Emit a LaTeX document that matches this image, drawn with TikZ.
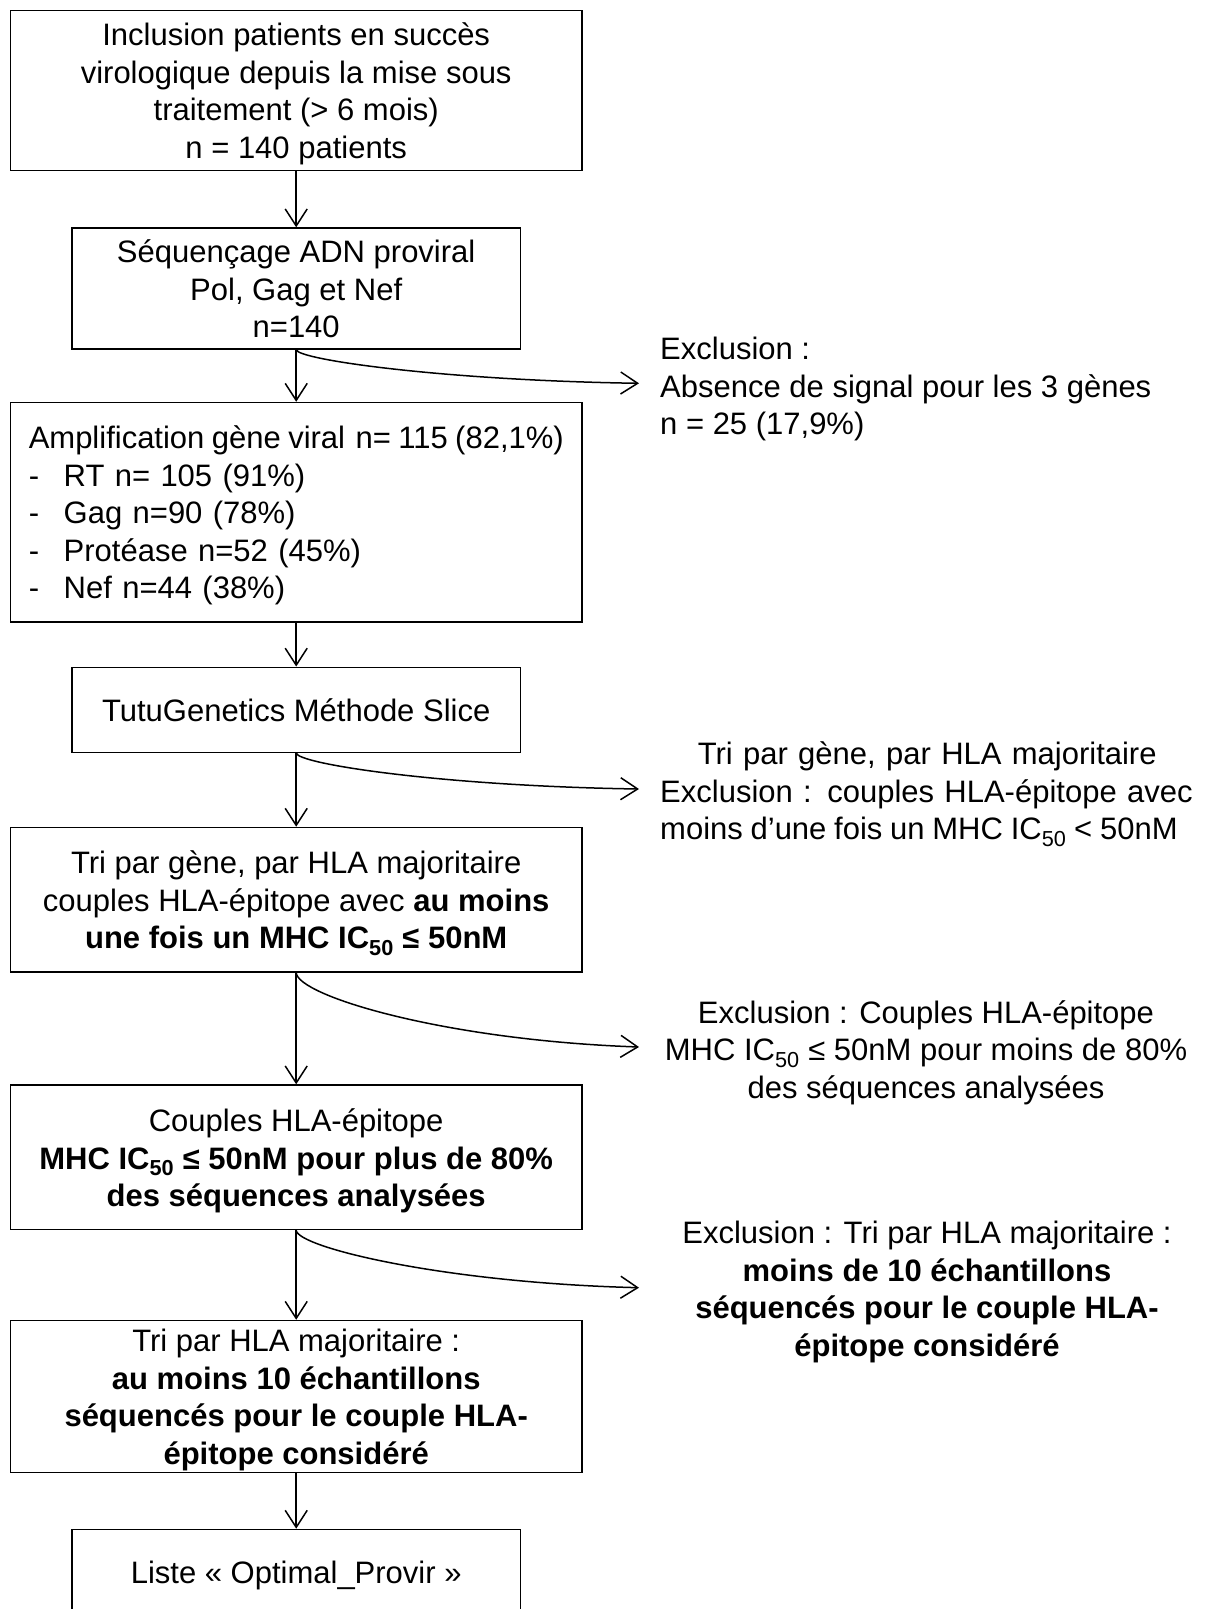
\documentclass[tikz,border=0pt]{standalone}
\usepackage{fontspec}
\setmainfont{Liberation Sans}
\usetikzlibrary{arrows.meta,calc}
\newcommand\myfs{\fontsize{31}{37.5}\selectfont}
\newcommand\ts{\rule{0pt}{31.5pt}}
\newcommand\botstrut{\rule[-8pt]{0pt}{8pt}}
\begin{document}
\begin{tikzpicture}[x=1pt,y=-1pt,
  box/.style={draw, line width=1.3pt, inner sep=0pt, align=center, font=\myfs,
    execute at end node=\botstrut},
  side/.style={inner sep=0pt, font=\myfs, execute at end node=\botstrut},
  arr/.style={-{Straight Barb[length=17pt,width=22pt,line width=1.5pt]}, line width=1.5pt}]
\useasboundingbox (0,0) rectangle (1205,1609);
\fill[white] (0,0) rectangle (1205,1609);

\node[box, minimum width=571.7pt, minimum height=160.1pt] (b1) at (296.2,90.4)
  {\ts Inclusion patients en succès\\virologique depuis la mise sous\\traitement (> 6 mois)\\n = 140 patients};
\node[box, minimum width=448.6pt, minimum height=121.1pt] (b2) at (296.2,288.5)
  {\ts Séquençage ADN proviral\\Pol, Gag et Nef\\n=140};
\node[box, align=left, text width=534.9pt, inner xsep=18.4pt, minimum height=219.6pt] (b3) at (296.2,512.2)
  {\ts\mbox{\spaceskip=0.24em Amplification gène viral\hspace{0.1em} n= 115 (82,1\%)}\\
   \mbox{\makebox[35pt][l]{-}RT n= 105 (91\%)}\\
   \mbox{\makebox[35pt][l]{-}Gag n=90 (78\%)}\\
   \mbox{\makebox[35pt][l]{-}Protéase n=52 (45\%)}\\
   \mbox{\makebox[35pt][l]{-}Nef n=44 (38\%)}};
\node[box, minimum width=448.6pt, minimum height=85.2pt] (b4) at (296.2,709.8)
  {\ts TutuGenetics Méthode Slice};
\node[box, minimum width=571.7pt, minimum height=144.7pt] (b5) at (296.2,899.7)
  {\ts Tri par gène, par HLA majoritaire\\couples HLA-épitope avec \textbf{au moins}\\\textbf{une fois un MHC IC\textsubscript{50} ≤ 50nM}};
\node[box, minimum width=571.7pt, minimum height=144.7pt] (b6) at (296.2,1157.3)
  {\ts Couples HLA-épitope\\\textbf{MHC IC\textsubscript{50} ≤ 50nM pour plus de 80\%}\\\textbf{des séquences analysées}};
\node[box, minimum width=571.7pt, minimum height=144.8pt] (b7) at (296.2,1396.4)
  {\ts Tri par HLA majoritaire :\\\textbf{au moins 10 échantillons}\\\textbf{séquencés pour le couple HLA-}\\\textbf{épitope considéré}};
\node[box, minimum width=448.6pt, minimum height=85.7pt] (b8) at (296.2,1572.2)
  {\ts Liste « Optimal\_Provir »};

\node[side, align=left, anchor=west] (s1) at (660,385.7)
  {\ts Exclusion :\\Absence de signal pour les 3 gènes\\n = 25 (17,9\%)};
\node[side, align=left, text width=534pt, anchor=west] (s2) at (660,790.3)
  {\ts\makebox[\linewidth][c]{Tri par gène, par HLA majoritaire}\\
   \makebox[\linewidth][s]{Exclusion : couples HLA-épitope avec}\\
   \mbox{\spaceskip=0.25em moins d’une fois un MHC IC\textsubscript{50} < 50nM}};
\node[side, align=center] (s3) at (926,1048.8)
  {\ts Exclusion : Couples HLA-épitope\\MHC IC\textsubscript{50} ≤ 50nM pour moins de 80\%\\des séquences analysées};
\node[side, align=center] (s4) at (927,1288)
  {\ts Exclusion : Tri par HLA majoritaire :\\\textbf{moins de 10 échantillons}\\\textbf{séquencés pour le couple HLA-}\\\textbf{épitope considéré}};

\coordinate (e1) at (639,383.3);
\coordinate (e2) at (639,789);
\coordinate (e3) at (639,1047);
\coordinate (e4) at (639,1287.7);

\draw[arr] (b1.south) -- (b2.north);
\draw[arr] (b2.south) -- (b3.north);
\draw[arr] (b3.south) -- (b4.north);
\draw[arr] (b4.south) -- (b5.north);
\draw[arr] (b5.south) -- (b6.north);
\draw[arr] (b6.south) -- (b7.north);
\draw[arr] (b7.south) -- (b8.north);

\draw[arr] (b2.south) .. controls ($(b2.south)+(1.5,10)$) and ($(e1)+(-196,-3)$) .. (e1);
\draw[arr] (b4.south) .. controls ($(b4.south)+(1.5,11)$) and ($(e2)+(-196,-3)$) .. (e2);
\draw[arr] (b5.south) .. controls ($(b5.south)+(1.5,23)$) and ($(e3)+(-196,-7)$) .. (e3);
\draw[arr] (b6.south) .. controls ($(b6.south)+(1.5,17)$) and ($(e4)+(-196,-5)$) .. (e4);
\end{tikzpicture}
\end{document}
